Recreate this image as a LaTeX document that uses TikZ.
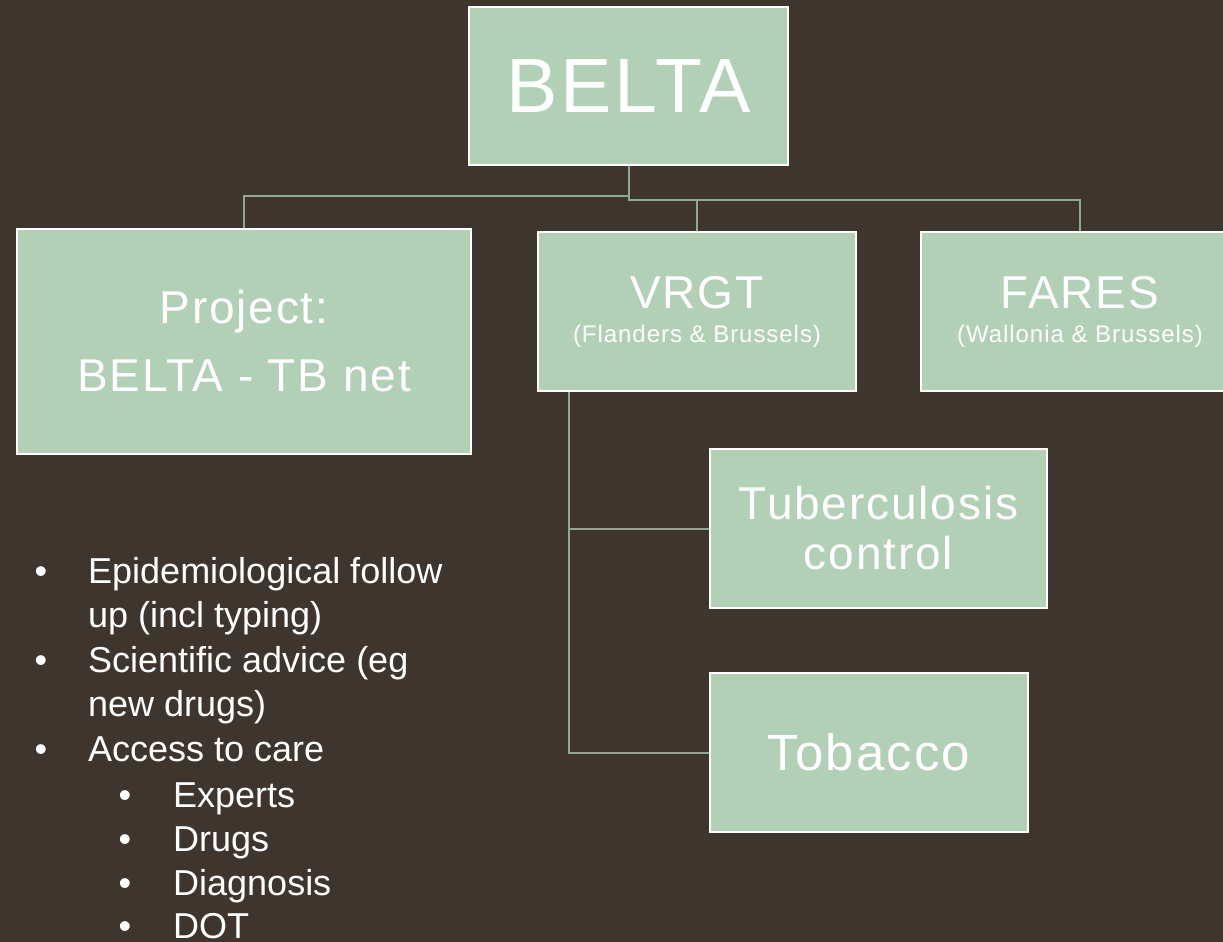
\documentclass[tikz,border=0pt]{standalone}
\usepackage{fontspec}
\setmainfont{Liberation Sans}
\newfontfamily\boxfont[LetterSpace=4]{Liberation Sans}
\definecolor{bg}{RGB}{62,54,46}
\definecolor{boxfill}{RGB}{178,208,181}
\definecolor{conn}{RGB}{143,170,144}
\pgfdeclarelayer{background}
\pgfsetlayers{background,main}
\begin{document}
\begin{tikzpicture}[x=1pt,y=-1pt,
  box/.style={draw=white, line width=1.6pt, fill=boxfill, text=white, inner sep=0pt, align=center},
  link/.style={draw=conn, line width=2pt},
  item/.style={anchor=base west, text=white, inner sep=0pt, font=\fontsize{36}{36}\selectfont},
  dot/.style={anchor=base, text=white, inner sep=0pt, font=\fontsize{36}{36}\selectfont}]
\useasboundingbox (0,0) rectangle (1223,942);

% boxes
\node[box, minimum width=319pt, minimum height=158pt, font=\boxfont\fontsize{77}{77}\selectfont] (belta) at (628.5,86) {BELTA};
\node[box, minimum width=454pt, minimum height=225pt, font=\boxfont\fontsize{46}{68}\selectfont] (project) at (244,341.5) {Project:\\BELTA - TB net};
\node[box, minimum width=318pt, minimum height=159pt, font=\boxfont\fontsize{46}{34}\selectfont] (vrgt) at (697,311.5) {VRGT\\{\fontsize{24}{34}\selectfont (Flanders \& Brussels)}};
\node[box, minimum width=318pt, minimum height=159pt, font=\boxfont\fontsize{46}{34}\selectfont] (fares) at (1080,311.5) {FARES\\{\fontsize{24}{34}\selectfont (Wallonia \& Brussels)}};
\node[box, minimum width=337pt, minimum height=159pt, font=\boxfont\fontsize{46}{50}\selectfont] (tb) at (878.5,528.5) {Tuberculosis\\control};
\node[box, minimum width=318pt, minimum height=159pt, font=\boxfont\fontsize{51}{51}\selectfont] (tob) at (869,752.5) {Tobacco};

% connectors
\begin{pgfonlayer}{background}
\fill[bg] (0,0) rectangle (1223,942);
\draw[link] (belta.south) -- ++(0,30) -| (project.north);
\draw[link] (belta.south) -- ++(0,34) coordinate (hr) -| (fares.north);
\draw[link] (vrgt.north) -- (vrgt.north |- hr);
\coordinate (vs) at ([xshift=32pt]vrgt.south west);
\draw[link] (vs) |- (tob.west);
\draw[link] (vs) |- (tb.west);
\end{pgfonlayer}

% bullet list
\node[dot] (b1) at (41,583) {•};
\node[item] (t1) at (88,583) {Epidemiological follow};
\node[item] (t1b) at (88,627) {up (incl typing)};
\node[dot] (b2) at (41,672) {•};
\node[item] (t2) at (88,672) {Scientific advice (eg};
\node[item] (t2b) at (88,716) {new drugs)};
\node[dot] (b3) at (41,761) {•};
\node[item] (t3) at (88,761) {Access to care};
\node[dot] (s1) at (125,807) {•};
\node[item] (u1) at (173,807) {Experts};
\node[dot] (s2) at (125,851) {•};
\node[item] (u2) at (173,851) {Drugs};
\node[dot] (s3) at (125,895) {•};
\node[item] (u3) at (173,895) {Diagnosis};
\node[dot] (s4) at (125,938) {•};
\node[item] (u4) at (173,938) {DOT};
\end{tikzpicture}
\end{document}
